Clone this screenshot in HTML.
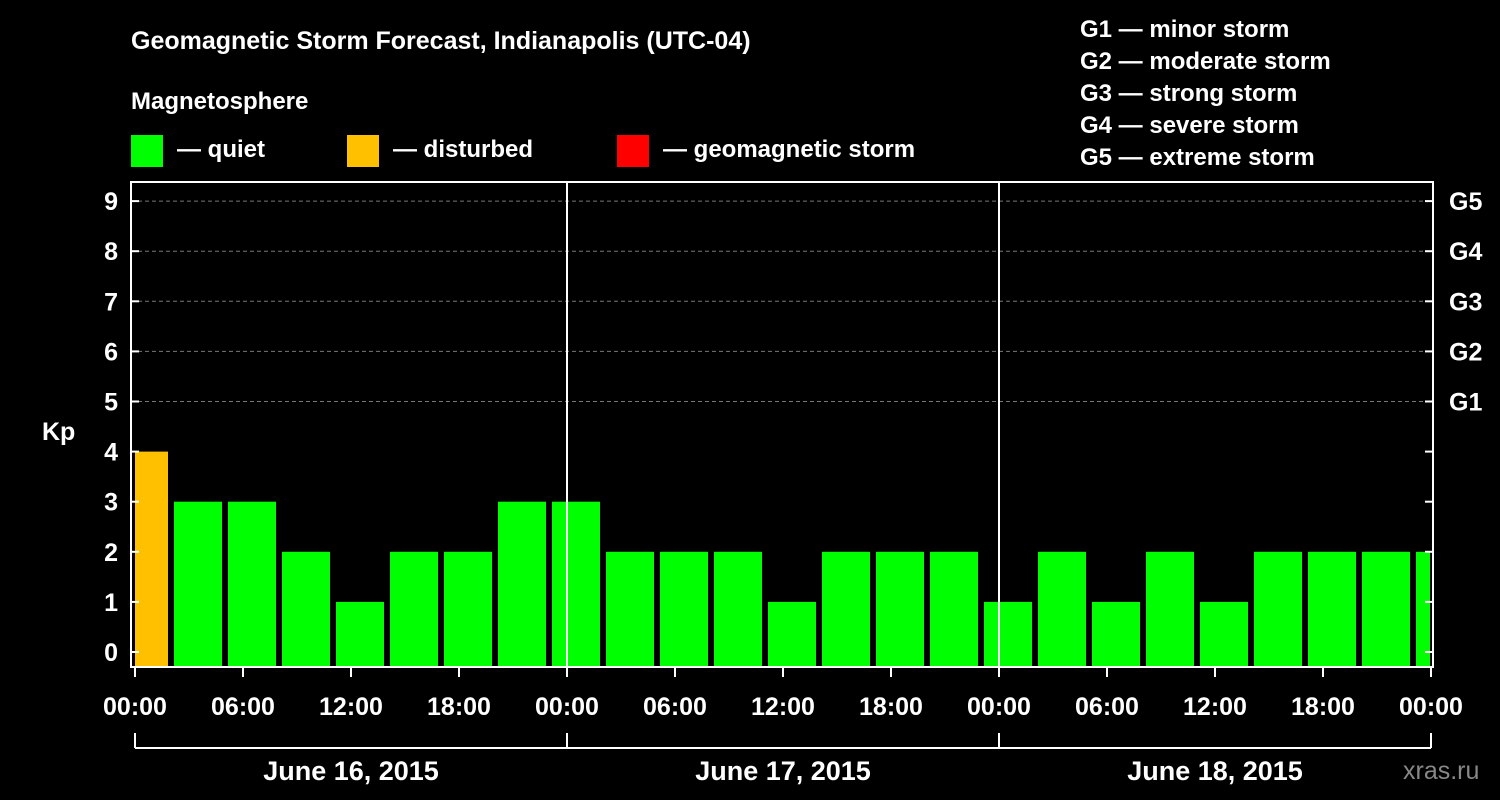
<!DOCTYPE html>
<html><head><meta charset="utf-8"><style>
html,body{margin:0;padding:0;background:#000;}
svg{display:block;font-family:"Liberation Sans",Arial,sans-serif;font-weight:bold;}
</style></head><body>
<svg id="chart" width="1500" height="800" viewBox="0 0 1500 800">
<rect x="0" y="0" width="1500" height="800" fill="#000"/>
<text x="131" y="49" fill="#fff" font-size="25">Geomagnetic Storm Forecast, Indianapolis (UTC-04)</text>
<text x="131" y="109" fill="#fff" font-size="24">Magnetosphere</text>
<g><rect x="131" y="135" width="32" height="32" fill="#00ff00"/><text x="177" y="157" fill="#fff" font-size="24">— quiet</text></g>
<g><rect x="347" y="135" width="32" height="32" fill="#ffc000"/><text x="393" y="157" fill="#fff" font-size="24">— disturbed</text></g>
<g><rect x="617" y="135" width="32" height="32" fill="#ff0000"/><text x="663" y="157" fill="#fff" font-size="24">— geomagnetic storm</text></g>
<g fill="#fff" font-size="24">
<text x="1080" y="37">G1 — minor storm</text>
<text x="1080" y="69">G2 — moderate storm</text>
<text x="1080" y="101">G3 — strong storm</text>
<text x="1080" y="133">G4 — severe storm</text>
<text x="1080" y="165">G5 — extreme storm</text>
</g>
<text x="42" y="440" fill="#fff" font-size="25">Kp</text>
<text x="1403" y="779" fill="#888" font-size="25" font-weight="normal">xras.ru</text>
<g id="plot"></g>
</svg>
<script>
const kpValues = [4,3,3,2,1,2,2,3, 3,2,2,2,1,2,2,2, 1,2,1,2,1,2,2,2, 2];
const yTicks = [0,1,2,3,4,5,6,7,8,9];
const gLabels = ["G1","G2","G3","G4","G5"];
const xTickLabels = ["00:00","06:00","12:00","18:00","00:00","06:00","12:00","18:00","00:00","06:00","12:00","18:00","00:00"];
const dayLabels = ["June 16, 2015","June 17, 2015","June 18, 2015"];

const NS = "http://www.w3.org/2000/svg";
const plot = document.getElementById("plot");
const L = 131, R = 1433, T = 182, B = 667;
const x0 = 135, pxPerHour = 18;
const xs = h => x0 + h * pxPerHour;
const ys = v => 652 - v * 50.1;
function mk(tag, attrs, parent) {
  const e = document.createElementNS(NS, tag);
  for (const k in attrs) e.setAttribute(k, attrs[k]);
  (parent || plot).appendChild(e);
  return e;
}
// clip
const defs = mk("defs", {});
const cp = mk("clipPath", {id: "pc"}, defs);
mk("rect", {x: L + 4, y: T, width: 1430 - L - 4, height: B - T}, cp);
// gridlines
yTicks.forEach(v => {
  if (v >= 5) {
    const g = mk("line", {x1: L, x2: R, y1: ys(v), y2: ys(v), stroke: "#777", "stroke-dasharray": "4,3", "stroke-width": 1});
    
    
  }
});
// bars
const barG = mk("g", {"clip-path": "url(#pc)"});
kpValues.forEach((v, i) => {
  const c = i * 3 + 0.5;
  const color = v >= 5 ? "#ff0000" : (v >= 4 ? "#ffc000" : "#00ff00");
  const b = mk("rect", {x: xs(c) - 24, y: ys(v), width: 48, height: B - ys(v), fill: color}, barG);
  
  
});
// day separators
[1, 2].forEach(d => {
  const l = mk("line", {x1: xs(d * 24), x2: xs(d * 24), y1: T, y2: B, stroke: "#fff", "stroke-width": 2});
  
  
});
// frame
const fr = mk("rect", {x: L, y: T, width: R - L, height: B - T, fill: "none", stroke: "#fff", "stroke-width": 2});


// y ticks
yTicks.forEach(v => {
  const y = ys(v);
  mk("line", {x1: L, x2: L + 8, y1: y, y2: y, stroke: "#fff", "stroke-width": 2});
  mk("line", {x1: R - 8, x2: R, y1: y, y2: y, stroke: "#fff", "stroke-width": 2});
  const t = mk("text", {x: L - 13, y: y + 9, fill: "#fff", "font-size": 25, "text-anchor": "end"});
  t.textContent = v;
  
  
});
gLabels.forEach((g, i) => {
  const t = mk("text", {x: R + 16, y: ys(5 + i) + 9, fill: "#fff", "font-size": 25});
  t.textContent = g;
  
  
});
// x ticks
xTickLabels.forEach((s, i) => {
  const x = xs(i * 6);
  mk("line", {x1: x, x2: x, y1: B, y2: B + 10, stroke: "#fff", "stroke-width": 2});
  const t = mk("text", {x: x, y: B + 48, fill: "#fff", "font-size": 25, "text-anchor": "middle"});
  t.textContent = s;
  
  
});
// day bracket
mk("line", {x1: xs(0), x2: xs(72), y1: 748, y2: 748, stroke: "#fff", "stroke-width": 2});
[0, 1, 2, 3].forEach(d => mk("line", {x1: xs(d * 24), x2: xs(d * 24), y1: 733, y2: 748, stroke: "#fff", "stroke-width": 2}));
dayLabels.forEach((s, i) => {
  const t = mk("text", {x: xs(i * 24 + 12), y: 780, fill: "#fff", "font-size": 27, "text-anchor": "middle"});
  t.textContent = s;
  
  
});
</script>
</body></html>
